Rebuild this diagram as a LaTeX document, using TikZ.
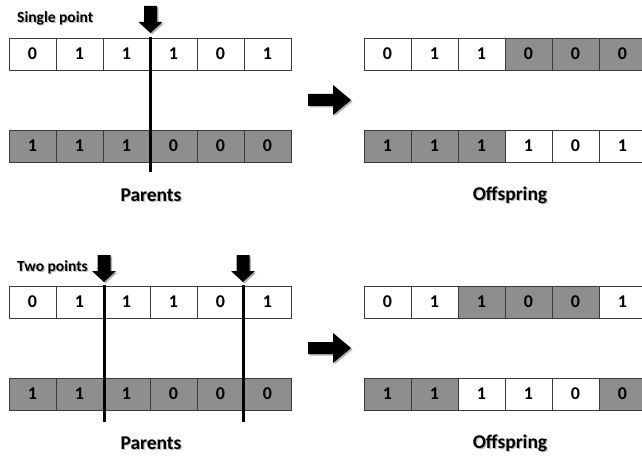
\documentclass[tikz,border=0pt]{standalone}
\usepackage{fontspec}
\setmainfont{Carlito}
\usetikzlibrary{shadows}
\definecolor{cellgray}{HTML}{8E8E8E}
\definecolor{edgegray}{HTML}{3A3A3A}

% label with a soft grey shadow behind it
\newcommand\softlabel[4]{%
  \node[lbl, #3, text=black!45, opacity=0.6] at ([shift={(1.2,1.4)}]#2) {#4};
  \node[lbl, #3] (#1) at (#2) {#4};}

\begin{document}
\begin{tikzpicture}[x=1pt,y=-1pt,
  cell/.style={draw=edgegray, line width=0.9pt, minimum width=47pt,
    minimum height=32pt, inner sep=0pt, outer sep=0pt, anchor=north west,
    font=\bfseries\fontsize{18}{18}\selectfont},
  lbl/.style={inner sep=0pt, font=\bfseries},
  small/.style={font=\bfseries\fontsize{15.5}{15.5}\selectfont, anchor=west},
  big/.style={font=\bfseries\fontsize{19.5}{19.5}\selectfont},
  cutline/.style={line width=3pt, black},
  shade/.style={drop shadow={shadow xshift=1.5pt, shadow yshift=-1.5pt,
    opacity=0.3, fill=black}},
  downarrow/.pic={\fill[black, shade] (0,0) -- (-12,-11) -- (-6.5,-11)
    -- (-6.5,-27) -- (6.5,-27) -- (6.5,-11) -- (12,-11) -- cycle;},
  rightarrow/.pic={\fill[black, shade] (0,0) -- (-18,-15) -- (-18,-6)
    -- (-43,-6) -- (-43,6) -- (-18,6) -- (-18,15) -- cycle;}
]
\clip (0,0) rectangle (642,457);
\fill[white] (0,0) rectangle (642,457);

% ---------- single point crossover ----------
\softlabel{single}{17,18}{small}{Single point}
\foreach \v/\f [count=\i] in {0/white,1/white,1/white,1/white,0/white,1/white}
  \node[cell, fill=\f] (sa\i) at ({9+47*(\i-1)},38) {\v};
\foreach \v/\f [count=\i] in {1/cellgray,1/cellgray,1/cellgray,0/cellgray,0/cellgray,0/cellgray}
  \node[cell, fill=\f] (sb\i) at ({9+47*(\i-1)},130) {\v};
\foreach \v/\f [count=\i] in {0/white,1/white,1/white,0/cellgray,0/cellgray,0/cellgray}
  \node[cell, fill=\f] (so\i) at ({364+47*(\i-1)},38) {\v};
\foreach \v/\f [count=\i] in {1/cellgray,1/cellgray,1/cellgray,1/white,0/white,1/white}
  \node[cell, fill=\f] (sp\i) at ({364+47*(\i-1)},130) {\v};

\coordinate (c1t) at (150.5,37);
\coordinate (c1b) at (150.5,172);
\draw[cutline] (c1t) -- (c1b);
\pic at (150.5,33) {downarrow};
\pic at (351,100) {rightarrow};

\softlabel{parentsA}{151,195}{big}{Parents}
\softlabel{offspringA}{510,195}{big}{Offspring}

% ---------- two point crossover ----------
\softlabel{two}{17,267}{small}{Two points}
\foreach \v/\f [count=\i] in {0/white,1/white,1/white,1/white,0/white,1/white}
  \node[cell, fill=\f] (ta\i) at ({9+47*(\i-1)},286) {\v};
\foreach \v/\f [count=\i] in {1/cellgray,1/cellgray,1/cellgray,0/cellgray,0/cellgray,0/cellgray}
  \node[cell, fill=\f] (tb\i) at ({9+47*(\i-1)},378) {\v};
\foreach \v/\f [count=\i] in {0/white,1/white,1/cellgray,0/cellgray,0/cellgray,1/white}
  \node[cell, fill=\f] (to\i) at ({364+47*(\i-1)},286) {\v};
\foreach \v/\f [count=\i] in {1/cellgray,1/cellgray,1/white,1/white,0/white,0/cellgray}
  \node[cell, fill=\f] (tp\i) at ({364+47*(\i-1)},378) {\v};

\coordinate (c2t) at (104,285);
\coordinate (c2b) at (104,422);
\coordinate (c3t) at (243,285);
\coordinate (c3b) at (243,422);
\draw[cutline] (c2t) -- (c2b);
\draw[cutline] (c3t) -- (c3b);
\pic at (104,282) {downarrow};
\pic at (243,282) {downarrow};
\pic at (351,348) {rightarrow};

\softlabel{parentsB}{151,443}{big}{Parents}
\softlabel{offspringB}{510,443}{big}{Offspring}
\end{tikzpicture}
\end{document}
